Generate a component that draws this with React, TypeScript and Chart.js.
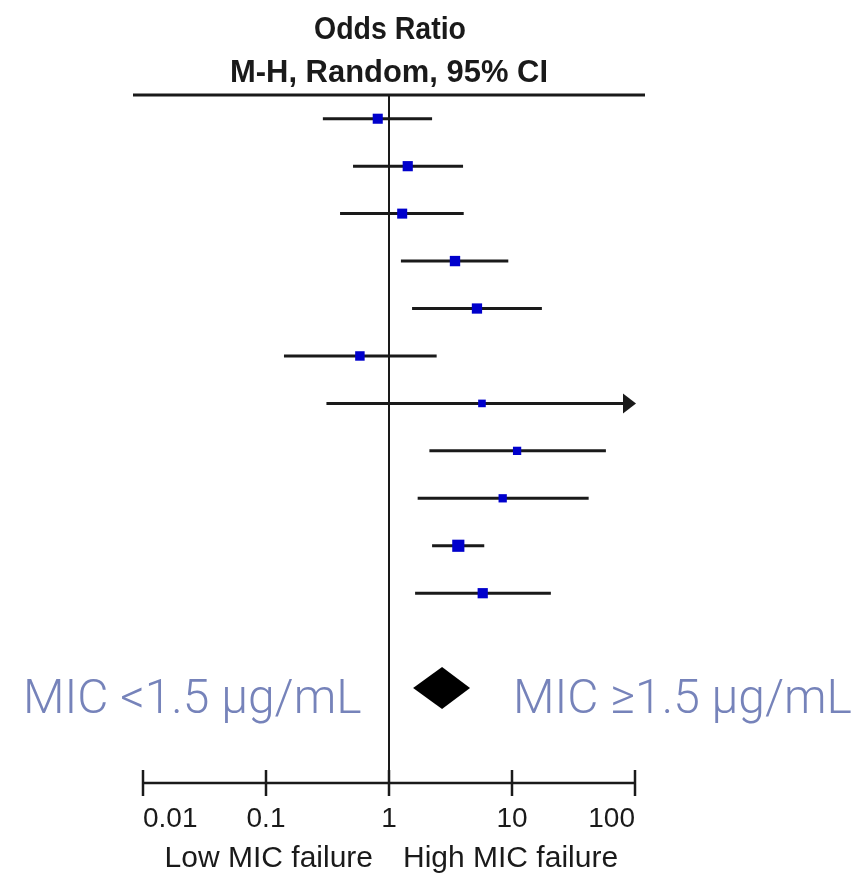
import { useEffect, useRef } from "react";
import { Chart, registerables } from "chart.js";

Chart.register(...registerables);

// Study rows (top to bottom) and their odds ratios with 95% CI
const studyRows = [1, 2, 3, 4, 5, 6, 7, 8, 9, 10, 11];
const oddsRatios = [0.81, 1.42, 1.28, 3.44, 5.19, 0.58, 5.7, 11.0, 8.4, 3.66, 5.78];
const ciLower = [0.29, 0.51, 0.4, 1.25, 1.54, 0.14, 0.31, 2.13, 1.71, 2.24, 1.63];
const ciUpper = [2.24, 4.0, 4.05, 9.33, 17.5, 2.44, 130, 58, 42, 5.95, 20.7];
const weights = [9.6, 9.8, 9.5, 10.2, 10.0, 8.5, 5.5, 6.5, 6.5, 14.0, 9.9];

// Pooled estimate (random effects)
const pooledRow = 13;
const pooledOR = 2.7;
const pooledLower = 1.57;
const pooledUpper = 4.56;

// Axis
const axisMin = 0.01;
const axisMax = 100;
const tickValues = [0.01, 0.1, 1, 10, 100];
const tickLabels = ["0.01", "0.1", "1", "10", "100"];

const headerLines = ["Odds Ratio", "M-H, Random, 95% CI"];
const favoursLeft = "Low MIC failure";
const favoursRight = "High MIC failure";
const groupLeft = "MIC <1.5 \u00b5g/mL";
const groupRight = "MIC \u22651.5 \u00b5g/mL";

const INK = "#1a1a1a";
const SQUARE = "#0000cc";
const GROUP_TEXT = "#7683ba";

const forestPlugin = {
  id: "forest",
  beforeDatasetsDraw(chart: any) {
    const { ctx, chartArea } = chart;
    const xs = chart.scales.x;
    const ys = chart.scales.y;
    const nullX = xs.getPixelForValue(1);
    ctx.save();
    ctx.strokeStyle = INK;
    ctx.fillStyle = INK;

    // header rule
    ctx.lineWidth = 3;
    ctx.beginPath();
    ctx.moveTo(chartArea.left - 10, chartArea.top);
    ctx.lineTo(chartArea.right + 10, chartArea.top);
    ctx.stroke();

    // line of no effect
    ctx.lineWidth = 2;
    ctx.beginPath();
    ctx.moveTo(nullX, chartArea.top);
    ctx.lineTo(nullX, chartArea.bottom);
    ctx.stroke();

    // confidence intervals
    ctx.lineWidth = 3;
    studyRows.forEach((row, i) => {
      const y = ys.getPixelForValue(row);
      const lo = xs.getPixelForValue(Math.max(ciLower[i], axisMin));
      const clipped = ciUpper[i] > axisMax;
      const hi = xs.getPixelForValue(Math.min(ciUpper[i], axisMax));
      ctx.beginPath();
      ctx.moveTo(lo, y);
      ctx.lineTo(clipped ? hi - 8 : hi, y);
      ctx.stroke();
      if (clipped) {
        ctx.beginPath();
        ctx.moveTo(hi + 1, y);
        ctx.lineTo(hi - 12, y - 10);
        ctx.lineTo(hi - 12, y + 10);
        ctx.closePath();
        ctx.fill();
      }
    });

    // pooled diamond
    const py = ys.getPixelForValue(pooledRow);
    ctx.fillStyle = "#000";
    ctx.beginPath();
    ctx.moveTo(xs.getPixelForValue(pooledLower), py);
    ctx.lineTo(xs.getPixelForValue(pooledOR), py - 21);
    ctx.lineTo(xs.getPixelForValue(pooledUpper), py);
    ctx.lineTo(xs.getPixelForValue(pooledOR), py + 21);
    ctx.closePath();
    ctx.fill();
    ctx.restore();
  },
  afterDraw(chart: any) {
    const { ctx, chartArea } = chart;
    const xs = chart.scales.x;
    const nullX = xs.getPixelForValue(1);
    const axisY = chartArea.bottom;
    ctx.save();
    ctx.strokeStyle = INK;
    ctx.fillStyle = INK;

    // bottom axis
    ctx.lineWidth = 2.5;
    ctx.beginPath();
    ctx.moveTo(xs.getPixelForValue(axisMin), axisY);
    ctx.lineTo(xs.getPixelForValue(axisMax), axisY);
    ctx.stroke();
    tickValues.forEach((v) => {
      const x = xs.getPixelForValue(v);
      ctx.beginPath();
      ctx.moveTo(x, axisY - 13);
      ctx.lineTo(x, axisY + 13);
      ctx.stroke();
    });

    ctx.font = "28px 'Liberation Sans', Arial, sans-serif";
    ctx.textBaseline = "alphabetic";
    tickValues.forEach((v, i) => {
      const x = xs.getPixelForValue(v);
      ctx.textAlign = i === 0 ? "left" : i === tickValues.length - 1 ? "right" : "center";
      ctx.fillText(tickLabels[i], x, axisY + 44);
    });

    ctx.font = "30px 'Liberation Sans', Arial, sans-serif";
    ctx.textAlign = "right";
    ctx.fillText(favoursLeft, nullX - 16, axisY + 84);
    ctx.textAlign = "left";
    ctx.fillText(favoursRight, nullX + 14, axisY + 84);

    // header text
    ctx.font = "bold 32px 'Liberation Sans', Arial, sans-serif";
    ctx.textAlign = "center";
    ctx.fillText(headerLines[0], nullX + 1, chartArea.top - 56, 152);
    ctx.fillText(headerLines[1], nullX, chartArea.top - 13, 318);

    // subgroup labels
    ctx.fillStyle = GROUP_TEXT;
    ctx.font = "300 48px Roboto, 'Liberation Sans', sans-serif";
    ctx.textAlign = "left";
    ctx.fillText(groupLeft, 23, 713, 347);
    ctx.fillText(groupRight, 513, 713, 339);
    ctx.restore();
  },
};

export default function App() {
  const canvasRef = useRef<HTMLCanvasElement | null>(null);

  useEffect(() => {
    const canvas = canvasRef.current;
    if (!canvas) return;
    const chart = new Chart(canvas, {
      type: "scatter",
      data: {
        datasets: [
          {
            data: oddsRatios.map((v, i) => ({ x: v, y: studyRows[i] })),
            pointStyle: "rect",
            pointRadius: weights.map((w) => (Math.sqrt(w) * 3.25) / Math.SQRT2),
            pointBackgroundColor: SQUARE,
            pointBorderWidth: 0,
            pointHoverRadius: 0,
          },
        ],
      },
      options: {
        responsive: false,
        animation: false,
        devicePixelRatio: 1,
        layout: { padding: { left: 143, right: 228, top: 95, bottom: 93 } },
        scales: {
          x: { type: "logarithmic", min: axisMin, max: axisMax, display: false },
          y: { type: "linear", min: 0.5, max: 15, reverse: true, display: false },
        },
        plugins: {
          legend: { display: false },
          tooltip: { enabled: false },
        },
        events: [],
      },
      plugins: [forestPlugin],
    });
    return () => chart.destroy();
  }, []);

  return (
    <div style={{ position: "absolute", left: 0, top: 0, width: 863, height: 876, background: "#fff" }}>
      <canvas ref={canvasRef} width={863} height={876} />
    </div>
  );
}
